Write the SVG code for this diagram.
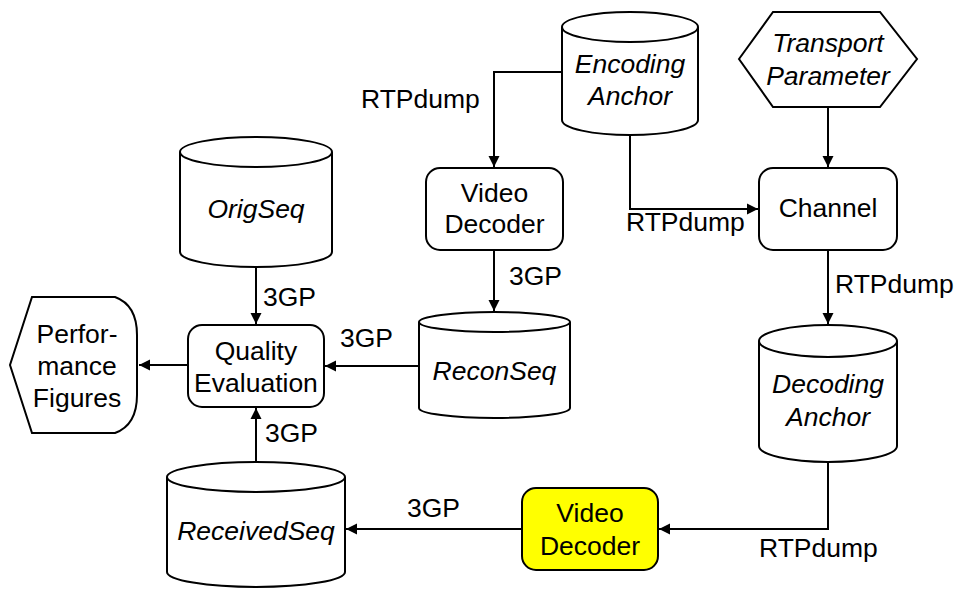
<svg xmlns="http://www.w3.org/2000/svg" width="956" height="589" viewBox="0 0 956 589">
<style>
.s{fill:#fff;stroke:#000;stroke-width:2}
.y{fill:#ffff00;stroke:#000;stroke-width:2}
.c{fill:none;stroke:#000;stroke-width:2}
text{font-family:"Liberation Sans",Arial,sans-serif;font-size:26.5px;fill:#000}
.m{text-anchor:middle}
.i{font-style:italic}
</style>
<defs>
<marker id="a" markerUnits="userSpaceOnUse" markerWidth="12" markerHeight="12" refX="11" refY="6" orient="auto">
<path d="M0,0.5 L11,6 L0,11.5 Z" fill="#000"/>
</marker>
</defs>
<rect width="956" height="589" fill="#fff"/>
<g id="connectors">
<path class="c" d="M562,72 H494 V167" marker-end="url(#a)"/>
<path class="c" d="M630,135 V209 H758" marker-end="url(#a)"/>
<path class="c" d="M828,107 V167" marker-end="url(#a)"/>
<path class="c" d="M828,250 V324" marker-end="url(#a)"/>
<path class="c" d="M828,462 V529 H659" marker-end="url(#a)"/>
<path class="c" d="M522,529 H346" marker-end="url(#a)"/>
<path class="c" d="M256,462 V408" marker-end="url(#a)"/>
<path class="c" d="M256,267 V324" marker-end="url(#a)"/>
<path class="c" d="M419,366 H325" marker-end="url(#a)"/>
<path class="c" d="M188,365 H139" marker-end="url(#a)"/>
<path class="c" d="M494,250 V311" marker-end="url(#a)"/>
<text x="361" y="108">RTPdump</text>
<text x="626" y="231">RTPdump</text>
<text x="835" y="293">RTPdump</text>
<text x="759" y="557">RTPdump</text>
<text x="509" y="285">3GP</text>
<text x="340" y="347">3GP</text>
<text x="263" y="306">3GP</text>
<text x="265" y="442">3GP</text>
<text x="407" y="517">3GP</text>
</g>
<g id="encoding-anchor">
<path class="s" d="M562,27 V120 A68,15 0 0 0 698,120 V27"/>
<ellipse class="s" cx="630" cy="27" rx="68" ry="15"/>
<text class="m i" x="630" y="73">Encoding</text>
<text class="m i" x="630" y="105">Anchor</text>
</g>
<g id="transport-parameter">
<polygon class="s" points="739,59 773,12 880,12 917,59 880,107 773,107"/>
<text class="m i" x="828" y="52">Transport</text>
<text class="m i" x="828" y="85">Parameter</text>
</g>
<g id="channel">
<rect class="s" x="759" y="168" width="138" height="82" rx="14"/>
<text class="m" x="828" y="217">Channel</text>
</g>
<g id="decoding-anchor">
<path class="s" d="M759,341 V446 A69,16 0 0 0 897,446 V341"/>
<ellipse class="s" cx="828" cy="341" rx="69" ry="16"/>
<text class="m i" x="828" y="393">Decoding</text>
<text class="m i" x="828" y="426">Anchor</text>
</g>
<g id="video-decoder-2">
<rect class="y" x="522" y="488" width="136" height="82" rx="14"/>
<text class="m" x="590" y="522">Video</text>
<text class="m" x="590" y="555">Decoder</text>
</g>
<g id="received-seq">
<path class="s" d="M167,477 V572 A89,15 0 0 0 345,572 V477"/>
<ellipse class="s" cx="256" cy="477" rx="89" ry="15"/>
<text class="m i" x="256" y="540">ReceivedSeq</text>
</g>
<g id="quality-evaluation">
<rect class="s" x="188" y="325" width="136" height="82" rx="14"/>
<text class="m" x="256" y="360">Quality</text>
<text class="m" x="256" y="392">Evaluation</text>
</g>
<g id="orig-seq">
<path class="s" d="M180,152 V252 A76,15 0 0 0 332,252 V152"/>
<ellipse class="s" cx="256" cy="152" rx="76" ry="15"/>
<text class="m i" x="256" y="218">OrigSeq</text>
</g>
<g id="recon-seq">
<path class="s" d="M419,322 V408 A75.5,10 0 0 0 570,408 V322"/>
<ellipse class="s" cx="494.5" cy="322" rx="75.5" ry="10"/>
<text class="m i" x="494.5" y="380">ReconSeq</text>
</g>
<g id="video-decoder-1">
<rect class="s" x="426" y="168" width="137" height="82" rx="14"/>
<text class="m" x="494.5" y="202">Video</text>
<text class="m" x="494.5" y="233">Decoder</text>
</g>
<g id="performance-figures">
<path class="s" d="M32,297 H115 Q137,305 137,335 V395 Q137,425 115,433 H32 L10,365 Z"/>
<text class="m" x="77" y="343">Perfor-</text>
<text class="m" x="77" y="375">mance</text>
<text class="m" x="77" y="407">Figures</text>
</g>
</svg>
